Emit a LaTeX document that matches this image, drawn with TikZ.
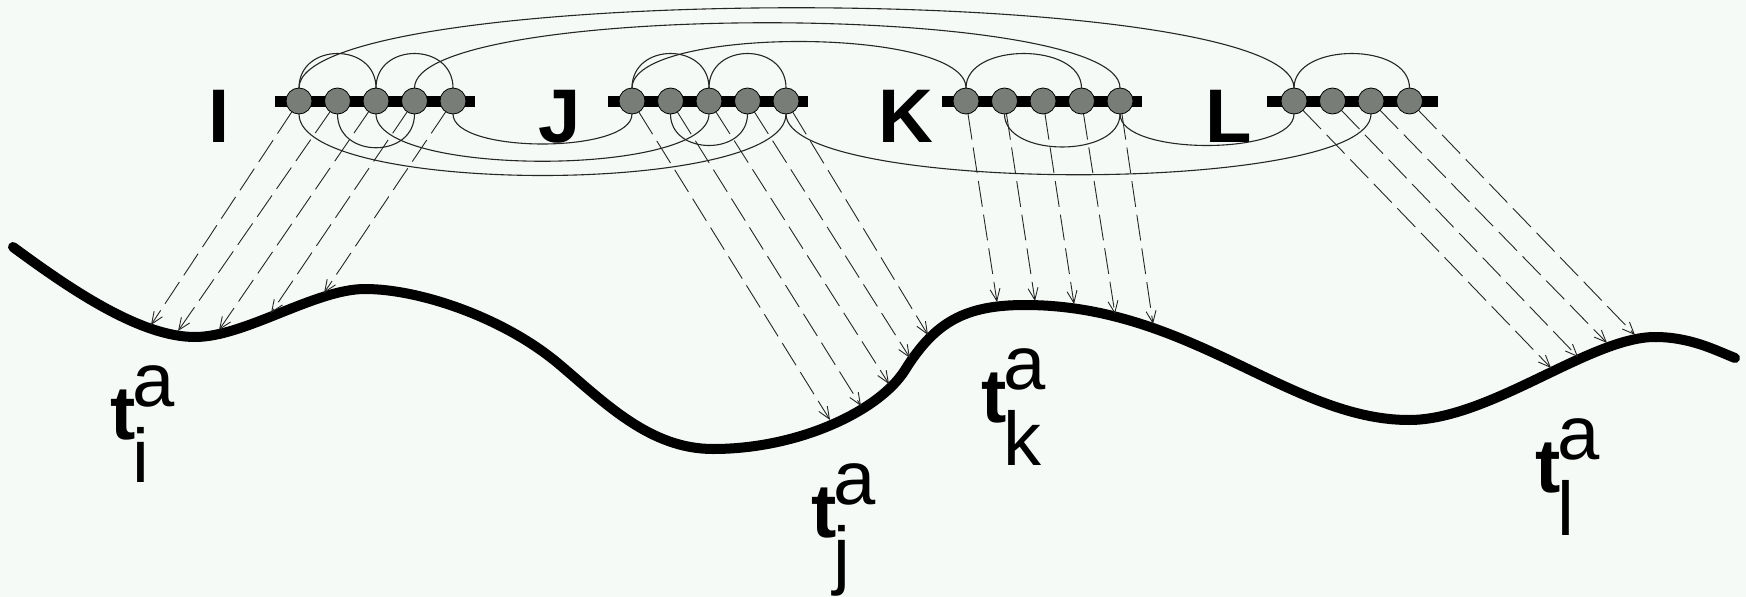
\documentclass[tikz,border=0pt]{standalone}
\usepackage{fontspec}
\setmainfont{Liberation Sans}
\usepackage{xcolor}
\definecolor{paper}{HTML}{F6FAF7}
\definecolor{sitegray}{HTML}{787D78}
\definecolor{ink}{HTML}{262626}
\usepackage{tikz}
\usetikzlibrary{positioning,arrows.meta,backgrounds}
\tikzset{
  site/.style={circle,draw=black,line width=0.8pt,fill=sitegray,
    minimum size=26pt,inner sep=0pt,outer sep=0pt},
  chainbar/.style={black,line width=11pt},
  link/.style={ink,line width=1.1pt},
  proj/.style={ink,line width=0.9pt,dash pattern=on 26pt off 8pt,
    -{Straight Barb[length=12pt,width=10pt]}},
  grp/.style={font=\fontsize{76}{80}\selectfont\bfseries,anchor=base,inner sep=0pt},
  tlab/.style={font=\fontsize{76}{80}\selectfont,anchor=base west,inner sep=0pt},
  profile/.style={black,line width=10pt,line cap=round},
}
\newcommand{\tsite}[1]{\textbf{t}\kern-3pt\rlap{\raisebox{33pt}{a}}\raisebox{-43pt}{#1}}

\begin{document}
\begin{tikzpicture}[x=1pt,y=-1pt]
    \useasboundingbox (0,0) rectangle (1746,597);
    % Sites of the four chains
    \node[site] (I1) at (299,101) {};
    \node[site] (J1) at (632,101) {};
    \node[site] (K1) at (966,101) {};
    \node[site] (L1) at (1294,101) {};
    \foreach \g/\n in {I/4,J/4,K/4,L/3}
      \foreach \i [count=\j from 2] in {1,...,\n}
        \node[site,right=12.5pt of \g\i] (\g\j) {};
    \begin{scope}[on background layer]
      \fill[paper] (0,0) rectangle (1746,597);
      \draw[chainbar] ([xshift=-11pt]I1.west) -- ([xshift=9pt]I5.east);
      \draw[chainbar] ([xshift=-11pt]J1.west) -- ([xshift=9pt]J5.east);
      \draw[chainbar] ([xshift=-11pt]K1.west) -- ([xshift=9pt]K5.east);
      \draw[chainbar] ([xshift=-14pt]L1.west) -- ([xshift=15pt]L4.east);
    \end{scope}
    \node[grp] (labI) at (219,142) {I};
    \node[grp] (labJ) at (560,142) {J};
    \node[grp] (labK) at (906,142) {K};
    \node[grp] (labL) at (1229,142) {L};
    % Links above and below the chains
    \foreach \a/\b/\h in {I1/I3/46,I3/I5/46,I1/L1/107,I4/K5/87,J1/J3/46,
                          J3/J5/46,J1/K1/62,K1/K4/46,L1/L4/46}
      \draw[link] (\a.north) .. controls +(0,-\h) and +(0,-\h) .. (\b.north);
    \foreach \a/\b/\h in {I2/I4/45,I3/J3/63,I1/J5/82,I5/J1/40,J2/J4/42,
                          J5/L3/81,K2/K5/44,K5/L1/42}
      \draw[link] (\a.south) .. controls +(0,\h) and +(0,\h) .. (\b.south);
    % Profile and projections
    \draw[profile] (13,247) .. controls (70,289) and (140,337) .. (195,337)
      .. controls (245,337) and (315,289) .. (365,289)
      .. controls (420,289) and (505,318) .. (560,365)
      .. controls (605,403) and (650,449) .. (713,449)
      .. controls (800,449) and (880,410) .. (905,370)
      .. controls (935,322) and (965,305) .. (1025,305)
      .. controls (1190,305) and (1290,420) .. (1409,420)
      .. controls (1490,420) and (1590,337) .. (1655,337)
      .. controls (1690,337) and (1715,350) .. (1735,358);
    \coordinate (ti1) at (151,325);
    \coordinate (ti2) at (178,331);
    \coordinate (ti3) at (219,330);
    \coordinate (ti4) at (271,313);
    \coordinate (ti5) at (324,293);
    \coordinate (tj1) at (830,420);
    \coordinate (tj2) at (861,406);
    \coordinate (tj3) at (889,384);
    \coordinate (tj4) at (910,358);
    \coordinate (tj5) at (928,335);
    \coordinate (tk1) at (997,302);
    \coordinate (tk2) at (1035,301);
    \coordinate (tk3) at (1074,304);
    \coordinate (tk4) at (1115,314);
    \coordinate (tk5) at (1153,324);
    \coordinate (tl1) at (1551,368);
    \coordinate (tl2) at (1578,357);
    \coordinate (tl3) at (1607,343);
    \coordinate (tl4) at (1635,335);
    \foreach \s/\t in {I1/ti1,I2/ti2,I3/ti3,I4/ti4,I5/ti5,
                       J1/tj1,J2/tj2,J3/tj3,J4/tj4,J5/tj5,
                       K1/tk1,K2/tk2,K3/tk3,K4/tk4,K5/tk5,
                       L1/tl1,L2/tl2,L3/tl3,L4/tl4}
      \draw[proj] (\s) -- (\t);
    % Labels under the profile
    \node[tlab] (ta) at (110,439) {\tsite{i}};
    \node[tlab] (tb) at (811,537) {\tsite{j}};
    \node[tlab] (tc) at (981,422) {\tsite{k}};
    \node[tlab] (td) at (1535,492) {\tsite{l}};
\end{tikzpicture}
\end{document}
